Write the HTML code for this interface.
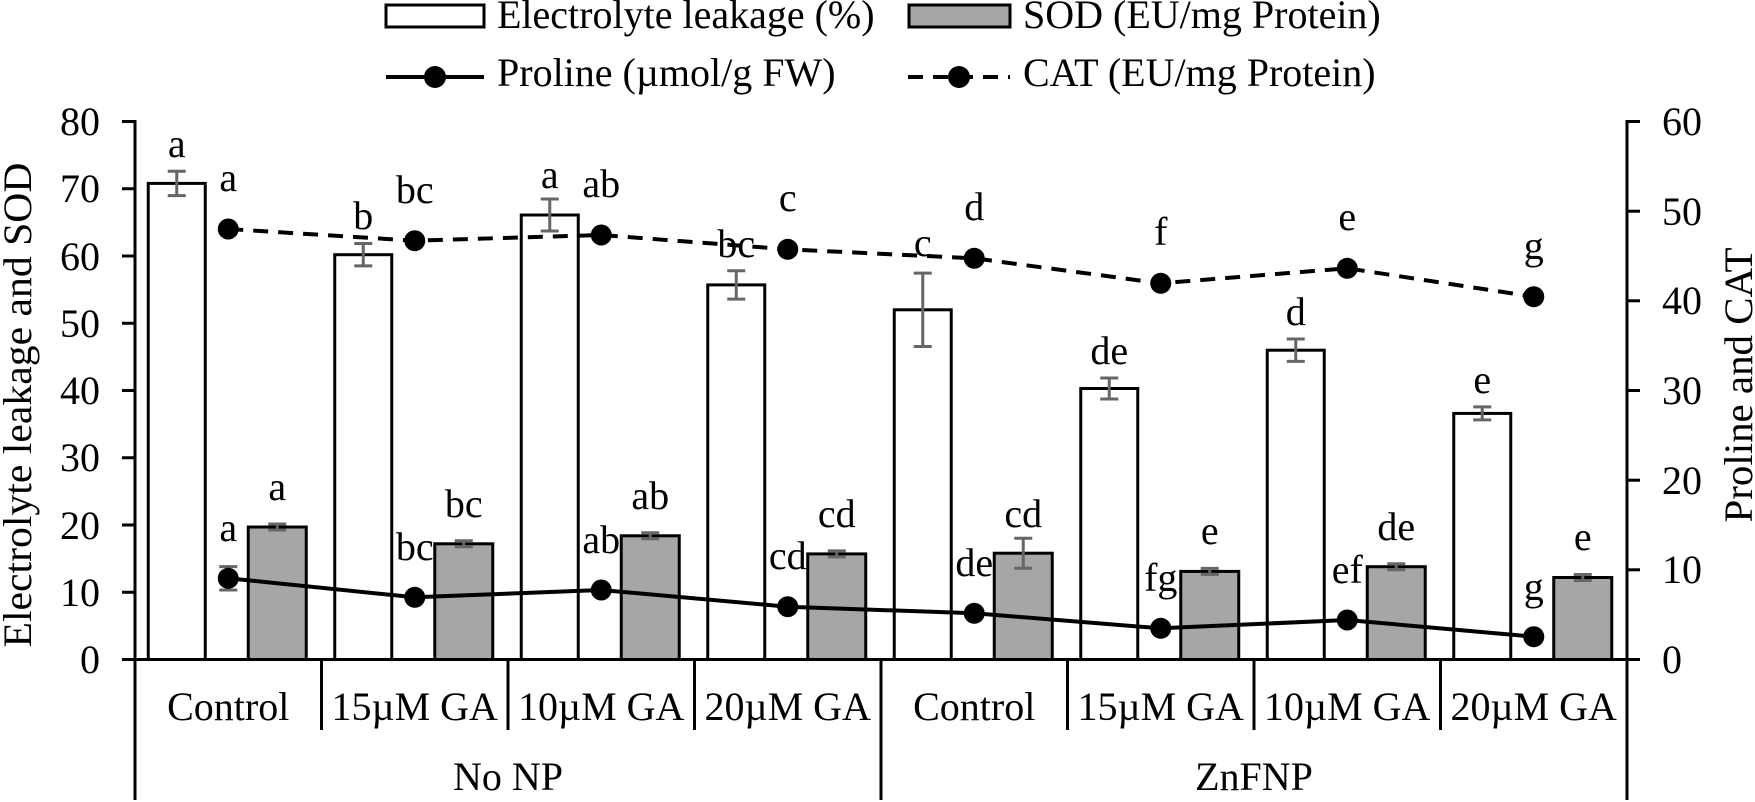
<!DOCTYPE html>
<html><head><meta charset="utf-8"><style>
html,body{margin:0;padding:0;background:#fff;}
svg{display:block;}
text{font-family:"Liberation Serif","Times New Roman",serif;fill:#000;}
</style></head><body>
<svg width="1755" height="802" viewBox="0 0 1755 802" xmlns="http://www.w3.org/2000/svg">
<!-- Legend -->
<rect x="386" y="5" width="98" height="22" fill="#fff" stroke="#000" stroke-width="3"/>
<text x="497" y="28" font-size="40">Electrolyte leakage (%)</text>
<rect x="909" y="5" width="101" height="22" fill="#a6a6a6" stroke="#000" stroke-width="3"/>
<text x="1023" y="28" font-size="40">SOD (EU/mg Protein)</text>
<line x1="386" y1="77" x2="484" y2="77" stroke="#000" stroke-width="4"/>
<circle cx="435" cy="77" r="11"/>
<text x="497" y="86" font-size="40">Proline (µmol/g FW)</text>
<line x1="908" y1="77" x2="1010" y2="77" stroke="#000" stroke-width="4" stroke-dasharray="15,10"/>
<circle cx="959" cy="77" r="11"/>
<text x="1023" y="86" font-size="40">CAT (EU/mg Protein)</text>

<!-- Axes -->
<g stroke="#000" stroke-width="3">
<line x1="135" y1="120" x2="135" y2="800"/>
<line x1="1627" y1="120" x2="1627" y2="800"/>
<line x1="122" y1="659.5" x2="1640" y2="659.5"/>
<line x1="122" y1="121.5" x2="135" y2="121.5"/>
<line x1="122" y1="188.75" x2="135" y2="188.75"/>
<line x1="122" y1="256" x2="135" y2="256"/>
<line x1="122" y1="323.25" x2="135" y2="323.25"/>
<line x1="122" y1="390.5" x2="135" y2="390.5"/>
<line x1="122" y1="457.75" x2="135" y2="457.75"/>
<line x1="122" y1="525" x2="135" y2="525"/>
<line x1="122" y1="592.25" x2="135" y2="592.25"/>
<line x1="1627" y1="121.5" x2="1640" y2="121.5"/>
<line x1="1627" y1="211.2" x2="1640" y2="211.2"/>
<line x1="1627" y1="300.8" x2="1640" y2="300.8"/>
<line x1="1627" y1="390.5" x2="1640" y2="390.5"/>
<line x1="1627" y1="480.2" x2="1640" y2="480.2"/>
<line x1="1627" y1="569.8" x2="1640" y2="569.8"/>
<line x1="321.5" y1="659.5" x2="321.5" y2="730"/>
<line x1="508" y1="659.5" x2="508" y2="730"/>
<line x1="694.5" y1="659.5" x2="694.5" y2="730"/>
<line x1="881" y1="659.5" x2="881" y2="800"/>
<line x1="1067.5" y1="659.5" x2="1067.5" y2="730"/>
<line x1="1254" y1="659.5" x2="1254" y2="730"/>
<line x1="1440.5" y1="659.5" x2="1440.5" y2="730"/>
</g>
<g font-size="40" text-anchor="end">
<text x="100" y="135">80</text><text x="100" y="202">70</text><text x="100" y="270">60</text>
<text x="100" y="337">50</text><text x="100" y="404">40</text><text x="100" y="471">30</text>
<text x="100" y="539">20</text><text x="100" y="606">10</text><text x="100" y="673">0</text>
</g>
<g font-size="40">
<text x="1662" y="135">60</text><text x="1662" y="225">50</text><text x="1662" y="314">40</text>
<text x="1662" y="404">30</text><text x="1662" y="494">20</text><text x="1662" y="583">10</text>
<text x="1662" y="673">0</text>
</g>
<text font-size="40" text-anchor="middle" textLength="485" lengthAdjust="spacingAndGlyphs" transform="translate(31,405) rotate(-90)">Electrolyte leakage and SOD</text>
<text font-size="40" text-anchor="middle" textLength="275" lengthAdjust="spacingAndGlyphs" transform="translate(1752,385) rotate(-90)">Proline and CAT</text>

<!-- Category labels -->
<g font-size="40" text-anchor="middle">
<text x="228.25" y="720">Control</text>
<text x="414.75" y="720">15µM GA</text>
<text x="601.25" y="720">10µM GA</text>
<text x="787.75" y="720">20µM GA</text>
<text x="974.25" y="720">Control</text>
<text x="1160.75" y="720">15µM GA</text>
<text x="1347.25" y="720">10µM GA</text>
<text x="1533.75" y="720">20µM GA</text>
<text x="508" y="790">No NP</text>
<text x="1254" y="790">ZnFNP</text>
</g>

<!-- EL bars -->
<g fill="#fff" stroke="#000" stroke-width="3">
<rect x="148.25" y="183.4" width="57" height="476.1"/>
<rect x="334.75" y="254.7" width="57" height="404.8"/>
<rect x="521.25" y="215.0" width="57" height="444.5"/>
<rect x="707.75" y="284.9" width="57" height="374.6"/>
<rect x="894.25" y="309.8" width="57" height="349.7"/>
<rect x="1080.75" y="388.5" width="57" height="271"/>
<rect x="1267.25" y="350.2" width="57" height="309.3"/>
<rect x="1453.75" y="413.4" width="57" height="246.1"/>
</g>
<!-- SOD bars -->
<g fill="#a6a6a6" stroke="#000" stroke-width="3">
<rect x="248.25" y="527" width="58" height="132.5"/>
<rect x="434.75" y="543.8" width="58" height="115.7"/>
<rect x="621.25" y="535.8" width="58" height="123.7"/>
<rect x="807.75" y="553.9" width="58" height="105.6"/>
<rect x="994.25" y="553.2" width="58" height="106.3"/>
<rect x="1180.75" y="571.4" width="58" height="88.1"/>
<rect x="1367.25" y="566.7" width="58" height="92.8"/>
<rect x="1553.75" y="577.5" width="58" height="82"/>
</g>
<!-- Error bars -->
<g stroke="#666" stroke-width="3" fill="none">
<path d="M176.75 171.2V195.6M167.75 171.2h18M167.75 195.6h18"/>
<path d="M363.25 243.5V265.9M354.25 243.5h18M354.25 265.9h18"/>
<path d="M549.75 199V231M540.75 199h18M540.75 231h18"/>
<path d="M736.25 270.7V299.1M727.25 270.7h18M727.25 299.1h18"/>
<path d="M922.75 273.1V346.5M913.75 273.1h18M913.75 346.5h18"/>
<path d="M1109.25 378V399M1100.25 378h18M1100.25 399h18"/>
<path d="M1295.75 339V361.4M1286.75 339h18M1286.75 361.4h18"/>
<path d="M1482.25 406.9V419.9M1473.25 406.9h18M1473.25 419.9h18"/>
<path d="M277.25 524V530M268.25 524h18M268.25 530h18"/>
<path d="M463.75 540.8V546.8M454.75 540.8h18M454.75 546.8h18"/>
<path d="M650.25 532.8V538.8M641.25 532.8h18M641.25 538.8h18"/>
<path d="M836.75 550.9V556.9M827.75 550.9h18M827.75 556.9h18"/>
<path d="M1023.25 538.2V568.2M1014.25 538.2h18M1014.25 568.2h18"/>
<path d="M1209.75 568.4V574.4M1200.75 568.4h18M1200.75 574.4h18"/>
<path d="M1396.25 563.7V569.7M1387.25 563.7h18M1387.25 569.7h18"/>
<path d="M1582.75 574.5V580.5M1573.75 574.5h18M1573.75 580.5h18"/>
<path d="M228.25 566.6V590M219.25 566.6h18M219.25 590h18"/>
</g>
<!-- Proline line -->
<polyline fill="none" stroke="#000" stroke-width="4" points="228.25,578.3 414.75,597.3 601.25,590 787.75,606.7 974.25,613.3 1160.75,628.3 1347.25,620 1533.75,636.7"/>
<g>
<circle cx="228.25" cy="578.3" r="10.5"/><circle cx="414.75" cy="597.3" r="10.5"/>
<circle cx="601.25" cy="590" r="10.5"/><circle cx="787.75" cy="606.7" r="10.5"/>
<circle cx="974.25" cy="613.3" r="10.5"/><circle cx="1160.75" cy="628.3" r="10.5"/>
<circle cx="1347.25" cy="620" r="10.5"/><circle cx="1533.75" cy="636.7" r="10.5"/>
</g>
<!-- CAT line -->
<polyline fill="none" stroke="#000" stroke-width="4" stroke-dasharray="15,10" points="228.25,229 414.75,240.7 601.25,235 787.75,249.3 974.25,258.3 1160.75,283.3 1347.25,268.3 1533.75,296.7"/>
<g>
<circle cx="228.25" cy="229" r="10.5"/><circle cx="414.75" cy="240.7" r="10.5"/>
<circle cx="601.25" cy="235" r="10.5"/><circle cx="787.75" cy="249.3" r="10.5"/>
<circle cx="974.25" cy="258.3" r="10.5"/><circle cx="1160.75" cy="283.3" r="10.5"/>
<circle cx="1347.25" cy="268.3" r="10.5"/><circle cx="1533.75" cy="296.7" r="10.5"/>
</g>

<!-- Letters -->
<g font-size="40" text-anchor="middle">
<text x="176.75" y="157">a</text>
<text x="363.25" y="229">b</text>
<text x="549.75" y="188">a</text>
<text x="736.25" y="257">bc</text>
<text x="922.75" y="256">c</text>
<text x="1109.25" y="364">de</text>
<text x="1295.75" y="325">d</text>
<text x="1482.25" y="393">e</text>
<text x="277.25" y="500">a</text>
<text x="463.75" y="517">bc</text>
<text x="650.25" y="509">ab</text>
<text x="836.75" y="527">cd</text>
<text x="1023.25" y="527">cd</text>
<text x="1209.75" y="544">e</text>
<text x="1396.25" y="540">de</text>
<text x="1582.75" y="550">e</text>
<text x="228.25" y="541">a</text>
<text x="414.75" y="560">bc</text>
<text x="601.25" y="553">ab</text>
<text x="787.75" y="569">cd</text>
<text x="974.25" y="576">de</text>
<text x="1160.75" y="591">fg</text>
<text x="1347.25" y="583">ef</text>
<text x="1533.75" y="600">g</text>
<text x="228.25" y="191">a</text>
<text x="414.75" y="203">bc</text>
<text x="601.25" y="197">ab</text>
<text x="787.75" y="211">c</text>
<text x="974.25" y="220">d</text>
<text x="1160.75" y="245">f</text>
<text x="1347.25" y="230">e</text>
<text x="1533.75" y="259">g</text>
</g>
</svg>
</body></html>
